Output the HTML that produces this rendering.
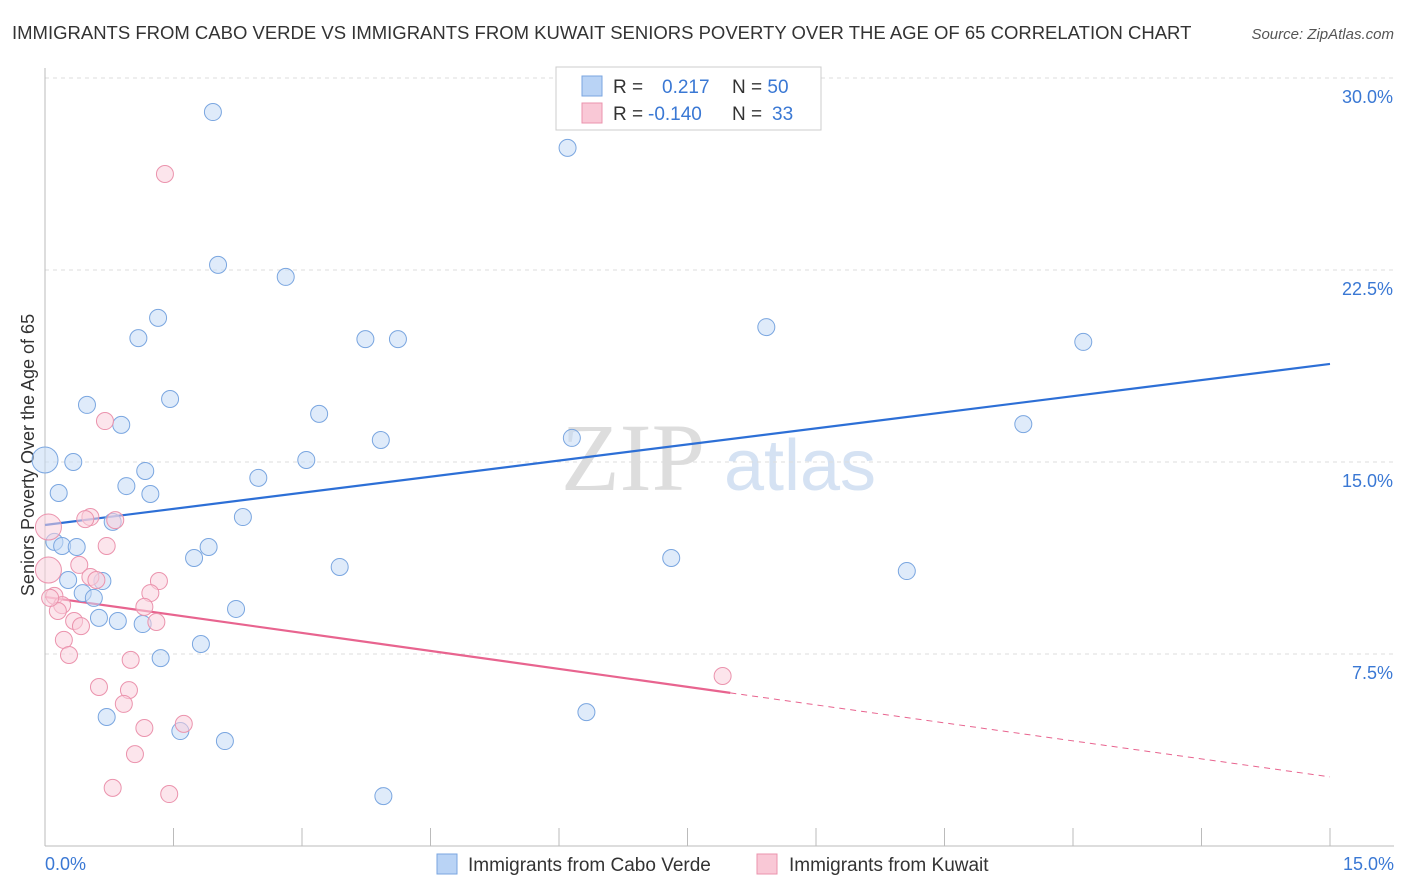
<!DOCTYPE html>
<html><head><meta charset="utf-8"><style>
body{margin:0;background:#fff;font-family:"Liberation Sans",sans-serif;}
svg{display:block}
</style></head><body>
<svg id="chart" width="1406" height="892">
<text x="12" y="39" font-size="18.5" fill="#333">IMMIGRANTS FROM CABO VERDE VS IMMIGRANTS FROM KUWAIT SENIORS POVERTY OVER THE AGE OF 65 CORRELATION CHART</text>
<text x="1394" y="39" font-size="15" fill="#555" font-style="italic" text-anchor="end">Source: ZipAtlas.com</text>
<text x="633" y="490" font-size="96" fill="#ddd" font-family="Liberation Serif,serif" text-anchor="middle">ZIP</text>
<text x="800" y="490" font-size="72" fill="#d5e2f3" text-anchor="middle">atlas</text>
<text transform="translate(34,455) rotate(-90)" font-size="18" fill="#333" text-anchor="middle">Seniors Poverty Over the Age of 65</text>
<g id="grid"></g><g id="axes"></g><g id="lines"></g><g id="pts"></g>
<g>
<rect x="556" y="67" width="265" height="63" fill="#fff" stroke="#ccc"/>
<rect x="582" y="76" width="20" height="20" fill="#b9d3f5" stroke="#7aa6e0"/>
<rect x="582" y="103" width="20" height="20" fill="#f9c8d6" stroke="#eb93ad"/>
<text x="613" y="93" font-size="19" fill="#333">R = <tspan fill="#3a78d4" x="662">0.217</tspan><tspan x="732" fill="#333">N = </tspan><tspan fill="#3a78d4">50</tspan></text>
<text x="613" y="120" font-size="19" fill="#333">R = <tspan fill="#3a78d4" x="648">-0.140</tspan><tspan x="732" fill="#333">N = </tspan><tspan fill="#3a78d4" x="772">33</tspan></text>
</g>
<g>
<rect x="437" y="854" width="20" height="20" fill="#b9d3f5" stroke="#7aa6e0"/>
<text x="468" y="871" font-size="19" fill="#333">Immigrants from Cabo Verde</text>
<rect x="757" y="854" width="20" height="20" fill="#f9c8d6" stroke="#eb93ad"/>
<text x="789" y="871" font-size="19" fill="#333">Immigrants from Kuwait</text>
</g>
</svg>
<script>
const blueX=[0,1.96,6.10,2.02,2.81,1.32,1.09,3.74,4.12,8.42,12.12,0.49,1.46,0.89,3.20,3.92,6.15,11.42,0.33,3.05,1.17,2.49,0.95,0.16,1.23,2.31,0.79,0.11,0.20,0.37,1.91,1.74,7.31,3.44,10.06,0.27,0.67,0.44,0.57,0.63,0.85,1.14,2.23,1.82,1.35,0.72,6.32,1.58,2.10,3.95];
const blueY=[15.08,28.67,27.27,22.70,22.23,20.63,19.84,19.80,19.80,20.27,19.69,17.23,17.46,16.45,16.88,15.86,15.94,16.48,15.0,15.08,14.65,14.38,14.06,13.79,13.75,12.85,12.66,11.88,11.72,11.68,11.68,11.25,11.25,10.90,10.74,10.39,10.35,9.88,9.69,8.91,8.79,8.67,9.26,7.89,7.34,5.04,5.23,4.49,4.10,1.95];
const pinkX=[1.40,0.70,0.04,0.53,0.82,0.47,0.72,0.04,0.40,0.53,0.60,1.33,0.11,1.23,0.20,0.15,1.16,0.34,0.42,1.30,0.22,0.28,1.00,0.63,0.98,0.92,1.16,1.62,1.05,0.79,1.45,7.91,0.06];
const pinkY=[26.25,16.60,12.46,12.85,12.73,12.77,11.72,10.78,10.98,10.51,10.39,10.35,9.77,9.88,9.41,9.18,9.34,8.79,8.59,8.75,8.05,7.46,7.27,6.21,6.09,5.55,4.61,4.77,3.59,2.27,2.03,6.64,9.69];
const blueTrend=[12.54,18.83];
const pinkTrend=[9.73,2.70];
const pinkSolidEnd=8.0;
const yTicks=[7.5,15,22.5,30];
const xTickLabels=["0.0%","15.0%"];
const NS="http://www.w3.org/2000/svg";
const sx=v=>45+v/15*1285, sy=v=>846-v/7.5*192;
function mk(p,t,a){const e=document.createElementNS(NS,t);for(const k in a)e.setAttribute(k,a[k]);p.appendChild(e);return e;}
const grid=document.getElementById('grid'),axes=document.getElementById('axes'),lines=document.getElementById('lines'),pts=document.getElementById('pts');
yTicks.forEach(v=>{
 const l=mk(grid,'line',{x1:45,x2:1394,y1:sy(v),y2:sy(v),stroke:'#ddd','stroke-dasharray':'4,4'});
 
 
 const t=mk(grid,'text',{x:1393,y:sy(v)+25,'font-size':18,fill:'#3a78d4','text-anchor':'end'});
 t.textContent=v.toFixed(1)+'%';
 
 
});
const ax=mk(axes,'line',{x1:45,x2:1394,y1:846,y2:846,stroke:'#bbb'});


const ay=mk(axes,'line',{x1:45,x2:45,y1:68,y2:846,stroke:'#bbb'});


for(let i=1;i<=10;i++){const tk=mk(axes,'line',{x1:sx(i*1.5),x2:sx(i*1.5),y1:828,y2:846,stroke:'#bbb'});
 
 }
[[0,'start',45],[15,'end',1394]].forEach((d,i)=>{const t=mk(axes,'text',{x:d[2],y:870,'font-size':18,fill:'#3a78d4','text-anchor':d[1]});t.textContent=xTickLabels[i];
 
 });
function pt(x,y,c,s,big){const e=mk(pts,'circle',{cx:sx(x),cy:sy(y),r:big?13:8.5,fill:c,'fill-opacity':0.55,stroke:s,'stroke-width':1});return e;}
blueX.forEach((x,i)=>{const e=pt(x,blueY[i],'#c5dbf6','#7aa6e0',i===0);
 
 });
pinkX.forEach((x,i)=>{const e=pt(x,pinkY[i],'#fad0dc','#eb93ad',i===2||i===7);
 
 });
const bl=mk(lines,'line',{x1:sx(0),y1:sy(blueTrend[0]),x2:sx(15),y2:sy(blueTrend[1]),stroke:'#2d6fd6','stroke-width':2.2});


const pAt=x=>pinkTrend[0]+(pinkTrend[1]-pinkTrend[0])*x/15;
const pl=mk(lines,'line',{x1:sx(0),y1:sy(pinkTrend[0]),x2:sx(pinkSolidEnd),y2:sy(pAt(pinkSolidEnd)),stroke:'#e8648f','stroke-width':2.2});


const pd=mk(lines,'line',{x1:sx(pinkSolidEnd),y1:sy(pAt(pinkSolidEnd)),x2:sx(15),y2:sy(pinkTrend[1]),stroke:'#e8648f','stroke-width':1,'stroke-dasharray':'6,5'});


</script>
</body></html>
